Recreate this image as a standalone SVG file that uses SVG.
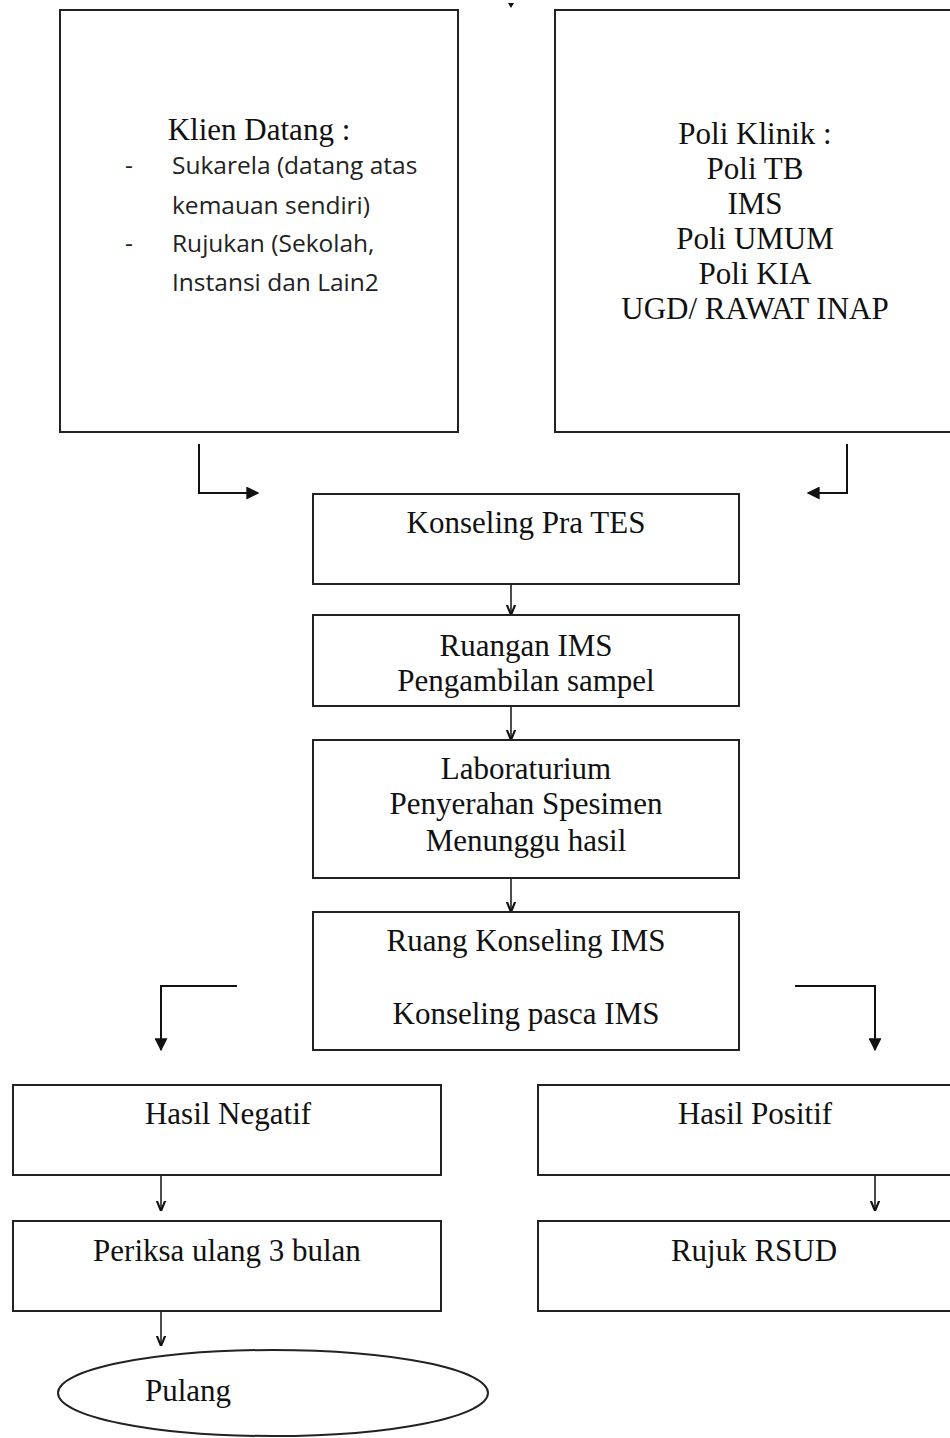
<svg xmlns="http://www.w3.org/2000/svg" width="950" height="1438" viewBox="0 0 950 1438">
<defs>
<style>
.box{fill:#fff;stroke:#222;stroke-width:2}
.t{font-family:"Liberation Serif","Times New Roman",serif;font-size:31px;fill:#111;text-anchor:middle}
.s{font-family:"Open Sans","Noto Sans",sans-serif;font-size:24.5px;fill:#222}
.c{fill:none;stroke:#111;stroke-width:2}
.c1{fill:none;stroke:#111;stroke-width:1.5}
</style>
<marker id="big" viewBox="0 0 10 10" refX="9" refY="5" markerWidth="6.5" markerHeight="6.5" markerUnits="strokeWidth" orient="auto"><path d="M0,0 L10,5 L0,10 z" fill="#111"/></marker>
<marker id="sm" viewBox="0 0 10 10" refX="9" refY="5" markerWidth="7" markerHeight="7" markerUnits="strokeWidth" orient="auto"><path d="M0,1 L10,5 L0,9" fill="none" stroke="#111" stroke-width="2"/></marker>
</defs>
<rect width="950" height="1438" fill="#fff"/>
<g id="connectors">
<path d="M508,3 L514,3 L511,8 z" fill="#111"/>
<path class="c" d="M199,444 L199,493 L258,493" marker-end="url(#big)"/>
<path class="c" d="M847,444 L847,493 L808,493" marker-end="url(#big)"/>
<path class="c1" d="M511,584 L511,614" marker-end="url(#sm)"/>
<path class="c1" d="M511,706 L511,739" marker-end="url(#sm)"/>
<path class="c1" d="M511,878 L511,911" marker-end="url(#sm)"/>
<path class="c" d="M237,986 L161,986 L161,1050" marker-end="url(#big)"/>
<path class="c" d="M795,986 L875,986 L875,1050" marker-end="url(#big)"/>
<path class="c1" d="M161,1175 L161,1210" marker-end="url(#sm)"/>
<path class="c1" d="M875,1175 L875,1210" marker-end="url(#sm)"/>
<path class="c1" d="M161,1311 L161,1345" marker-end="url(#sm)"/>
</g>
<g id="klien">
<rect class="box" x="60" y="10" width="398" height="422"/>
<text class="t" x="259" y="140">Klien Datang :</text>
<text class="s" x="125" y="174">-</text>
<text class="s" x="172" y="174">Sukarela (datang atas</text>
<text class="s" x="172" y="214">kemauan sendiri)</text>
<text class="s" x="125" y="252">-</text>
<text class="s" x="172" y="252">Rujukan (Sekolah,</text>
<text class="s" x="172" y="291">Instansi dan Lain2</text>
</g>
<g id="poli">
<rect class="box" x="555" y="10" width="405" height="422"/>
<text class="t" x="755" y="144">Poli Klinik :</text>
<text class="t" x="755" y="179">Poli TB</text>
<text class="t" x="755" y="214">IMS</text>
<text class="t" x="755" y="249">Poli UMUM</text>
<text class="t" x="755" y="284">Poli KIA</text>
<text class="t" x="755" y="319">UGD/ RAWAT INAP</text>
</g>
<g id="pra">
<rect class="box" x="313" y="494" width="426" height="90"/>
<text class="t" x="526" y="533">Konseling Pra TES</text>
</g>
<g id="ruangan">
<rect class="box" x="313" y="615" width="426" height="91"/>
<text class="t" x="526" y="656">Ruangan IMS</text>
<text class="t" x="526" y="691">Pengambilan sampel</text>
</g>
<g id="lab">
<rect class="box" x="313" y="740" width="426" height="138"/>
<text class="t" x="526" y="779">Laboraturium</text>
<text class="t" x="526" y="814">Penyerahan Spesimen</text>
<text class="t" x="526" y="851">Menunggu hasil</text>
</g>
<g id="pasca">
<rect class="box" x="313" y="912" width="426" height="138"/>
<text class="t" x="526" y="951">Ruang Konseling IMS</text>
<text class="t" x="526" y="1024">Konseling pasca IMS</text>
</g>
<g id="negatif">
<rect class="box" x="13" y="1085" width="428" height="90"/>
<text class="t" x="228" y="1124">Hasil Negatif</text>
</g>
<g id="periksa">
<rect class="box" x="13" y="1221" width="428" height="90"/>
<text class="t" x="227" y="1261">Periksa ulang 3 bulan</text>
</g>
<g id="positif">
<rect class="box" x="538" y="1085" width="422" height="90"/>
<text class="t" x="755" y="1124">Hasil Positif</text>
</g>
<g id="rujuk">
<rect class="box" x="538" y="1221" width="422" height="90"/>
<text class="t" x="754" y="1261">Rujuk RSUD</text>
</g>
<g id="pulang">
<ellipse class="box" cx="273" cy="1393" rx="215" ry="43"/>
<text class="t" x="145" y="1401" style="text-anchor:start">Pulang</text>
</g>
</svg>
